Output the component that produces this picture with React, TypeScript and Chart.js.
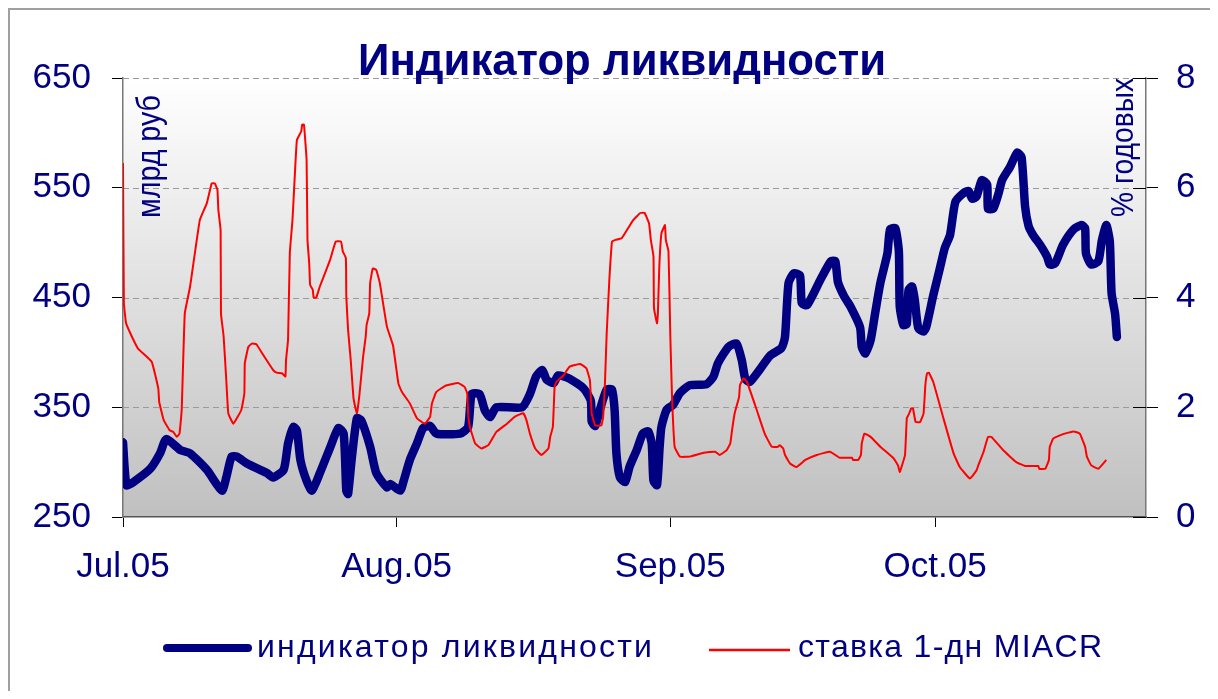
import React, { useEffect, useRef } from "react";
import { Chart, registerables } from "chart.js";

Chart.register(...registerables);

const TITLE = "Индикатор ликвидности";
const LEFT_AXIS_TITLE = "млрд руб";
const RIGHT_AXIS_TITLE = "% годовых";
const SERIES_NAMES = ["индикатор ликвидности", "ставка 1-дн MIACR"];

// x axis: days since 1 Jul 2005
const MONTH_TICK_DAYS = [0, 31, 62, 92];
const MONTH_TICK_LABELS = ["Jul.05", "Aug.05", "Sep.05", "Oct.05"];
const LEFT_TICKS = [250, 350, 450, 550, 650];
const RIGHT_TICKS = [0, 2, 4, 6, 8];

const liquidityDays = [
  0.0, 0.4, 1.2, 3.1, 4.2, 4.9, 6.5, 7.6, 9.5, 11.2, 11.7, 12.3, 12.9, 14.0, 16.3, 17.0, 18.2, 18.7,
  19.3, 19.7, 20.1, 20.8, 21.4, 22.3, 23.5, 24.4, 25.0, 25.3, 25.5, 25.9, 26.5, 27.0, 28.0, 28.7,
  29.9, 30.3, 31.4, 31.8, 32.5, 33.3, 34.0, 34.8, 35.5, 38.2, 39.1, 39.5, 40.4, 41.0, 41.6, 42.3,
  45.2, 46.1, 46.8, 47.5, 48.0, 48.8, 49.3, 50.6, 52.2, 53.0, 53.1, 53.5, 54.0, 54.8, 55.4, 55.7,
  55.9, 56.3, 56.9, 57.4, 58.2, 58.9, 59.5, 59.9, 60.1, 60.5, 60.8, 61.0, 61.6, 62.3, 63.1, 64.2,
  66.1, 66.9, 67.4, 68.6, 69.5, 70.1, 70.5, 71.0, 72.2, 73.3, 74.6, 75.0, 75.4, 76.0, 76.7, 76.9,
  77.5, 79.0, 80.2, 80.7, 81.0, 81.7, 82.4, 83.5, 83.7, 84.1, 84.7, 85.2, 85.8, 86.6, 86.9, 87.5,
  87.9, 88.0, 88.4, 88.8, 89.0, 89.4, 89.7, 90.1, 90.7, 91.0, 91.8, 92.5, 93.1, 93.7, 94.3, 95.2,
  95.8, 96.2, 96.7, 97.3, 97.9, 98.0, 98.6, 99.2, 99.6, 100.5, 101.3, 101.8, 102.2, 102.6, 103.1,
  103.9, 104.7, 105.0, 105.6, 106.5, 107.7, 108.6, 109.0, 109.1, 109.7, 110.5, 110.9, 111.4, 111.8,
  112.0, 112.4, 112.6,
];
const liquidityValues = [
  318, 279, 282, 294, 308, 321, 311, 308, 293, 274, 286, 305, 305, 299, 290, 286, 293, 317,
  332, 329, 302, 283, 274, 290, 314, 331, 326, 274, 271, 302, 340, 338, 314, 290,
  277, 280, 274, 283, 302, 317, 331, 333, 326, 326, 332, 362, 362, 347, 341, 350,
  350, 362, 378, 384, 375, 372, 379, 376, 367, 356, 337, 333, 347, 366, 366, 347,
  308, 286, 282, 296, 311, 326, 328, 317, 283, 279, 314, 332, 348, 352, 363, 370,
  371, 378, 390, 405, 408, 393, 376, 373, 385, 397, 404, 414, 463, 472, 470, 445,
  443, 466, 483, 483, 464, 451, 442, 423, 405, 399, 411, 435, 463, 490, 512, 513,
  492, 442, 425, 426, 457, 460, 448, 422, 419, 423, 452, 475, 495, 507, 537, 545,
  547, 540, 542, 557, 553, 531, 531, 545, 557, 569, 582, 578, 533, 515, 507,
  498, 487, 480, 481, 498, 512, 516, 513, 490, 480, 483, 502, 516, 501,
  454, 435, 414,
];

const rateDays = [
  0.0, 0.1, 0.35, 1.0, 1.7, 3.25, 4.0, 4.1, 4.6, 5.3, 5.7, 6.1, 6.4, 6.65, 7.0, 7.6, 8.7, 9.5,
  10.05, 10.4, 10.7, 10.8, 11.06, 11.1, 11.4, 11.7, 11.93, 12.5, 13.4, 13.75, 13.8, 14.2, 14.6,
  15.1, 15.9, 17.0, 17.4, 18.0, 18.4, 18.47, 18.7, 18.9, 19.2, 19.4, 19.7, 20.2, 20.3, 20.5, 20.8,
  20.9, 21.1, 21.2, 21.5, 21.6, 21.9, 22.3, 23.45, 24.1, 24.7, 24.9, 25.25, 25.3, 25.5, 25.8, 26.1,
  26.3, 26.5, 26.8, 27.2, 27.5, 27.6, 27.9, 28.0, 28.3, 28.7, 29.1, 29.9, 30.6, 31.2, 31.6, 32.5,
  33.3, 34.2, 34.8, 35.0, 35.5, 36.5, 37.2, 38.0, 38.7, 39.0, 39.1, 39.3, 39.9, 40.6, 41.4, 42.3,
  43.5, 44.4, 45.35, 45.7, 46.1, 46.7, 47.4, 48.2, 48.4, 48.7, 48.9, 49.1, 49.9, 50.6, 51.8, 52.5,
  52.9, 53.1, 53.5, 54.2, 54.4, 54.6, 54.8, 55.1, 55.4, 55.8, 56.5, 57.1, 57.8, 58.6, 59.1, 59.6,
  59.8, 60.1, 60.16, 60.5, 60.6, 60.76, 61.0, 61.4, 61.5, 61.8, 62.0, 62.2, 62.5, 63.1, 64.2, 65.8,
  67.1, 67.6, 68.4, 68.8, 69.0, 69.3, 69.8, 69.9, 70.3, 70.7, 71.8, 72.7, 73.5, 74.2, 74.4, 74.8,
  75.0, 75.6, 76.3, 77.3, 78.6, 80.1, 81.2, 82.6, 82.7, 83.3, 83.6, 83.7, 84.0, 84.7, 85.8, 87.3,
  87.8, 88.0, 88.2, 88.6, 88.8, 89.0, 89.3, 89.5, 89.8, 90.3, 90.7, 90.9, 91.1, 91.3, 91.8, 93.0,
  94.1, 94.8, 95.96, 96.7, 96.9, 97.5, 98.0, 98.4, 99.7, 101.2, 102.2, 103.7, 103.8, 104.5, 104.9,
  105.0, 105.4, 106.5, 107.7, 108.4, 109.0, 109.2, 109.7, 110.5, 111.4,
];
const rateValues = [
  6.45, 3.9, 3.53, 3.29, 3.07, 2.83, 2.34, 2.1, 1.77, 1.58, 1.55, 1.46, 1.52, 1.95, 3.71, 4.2, 5.41, 5.72,
  6.08, 6.08, 5.96, 5.6, 5.23, 3.71, 3.29, 2.5, 1.89, 1.7, 1.95, 2.25, 2.8, 3.1, 3.16,
  3.15, 2.95, 2.68, 2.63, 2.62, 2.56, 2.86, 3.23, 4.81, 5.41, 6.02, 6.87, 7.03, 7.15, 7.15, 6.51,
  5.05, 4.62, 4.23, 4.14, 4.0, 4.0, 4.2, 4.68, 5.02, 5.02, 4.84, 4.72, 4.02, 3.41, 2.86, 2.19,
  2.01, 1.89, 2.25, 2.92, 3.29, 3.5, 3.71, 4.26, 4.53, 4.5, 4.26, 3.47, 3.12, 2.43, 2.28, 2.07,
  1.8, 1.7, 1.83, 2.07, 2.28, 2.39, 2.42, 2.44, 2.37, 2.25, 1.89, 1.64, 1.34, 1.25, 1.31, 1.55,
  1.7, 1.83, 1.89, 1.77, 1.52, 1.25, 1.13, 1.25, 1.46, 1.64, 2.37, 2.46, 2.58, 2.74, 2.79, 2.71,
  2.49, 1.89, 1.67, 1.67, 1.83, 2.43, 3.35, 4.32, 5.02, 5.05, 5.08, 5.23, 5.41, 5.54, 5.54, 5.35,
  5.05, 4.75, 3.8, 3.53, 3.71, 4.56, 5.17, 5.32, 5.05, 4.84, 3.35, 2.2, 1.28, 1.1, 1.1, 1.17,
  1.19, 1.13, 1.22, 1.34, 1.58, 1.89, 2.19, 2.4, 2.53, 2.46, 1.95, 1.52, 1.28, 1.28, 1.31, 1.25,
  1.13, 0.97, 0.91, 1.04, 1.13, 1.19, 1.08, 1.08, 1.04, 1.04, 1.13, 1.34, 1.52, 1.46, 1.28, 1.07,
  0.94, 0.82, 0.91, 1.13, 1.8, 1.86, 1.98, 1.98, 1.73, 1.73, 1.89, 2.4, 2.62, 2.63, 2.46, 1.77,
  1.16, 0.91, 0.7, 0.85, 0.94, 1.19, 1.46, 1.46, 1.22, 1.0, 0.93, 0.93, 0.88, 0.88, 1.04,
  1.28, 1.43, 1.51, 1.56, 1.52, 1.28, 1.1, 0.94, 0.88, 1.04,
];

const NAVY = "#000080";
const RED = "#ff0000";
const FONT = "'Liberation Sans', Arial, sans-serif";

function fitText(ctx: CanvasRenderingContext2D, text: string, x: number, y: number, font: string, target: number) {
  // draws text starting at x (left) with baseline y, fitted to target width
  ctx.save();
  ctx.font = font;
  ctx.textAlign = "left";
  ctx.textBaseline = "alphabetic";
  const w = ctx.measureText(text).width;
  const n = text.length - 1;
  if (w < target && n > 0) {
    (ctx as any).letterSpacing = (target - w) / n + "px";
    ctx.fillText(text, x, y);
  } else {
    ctx.translate(x, y);
    ctx.scale(target / w, 1);
    ctx.fillText(text, 0, 0);
  }
  ctx.restore();
}

const decorPlugin = {
  id: "decor",
  beforeDraw(chart: any) {
    const { ctx, chartArea } = chart;
    const g = ctx.createLinearGradient(0, chartArea.top, 0, chartArea.bottom);
    g.addColorStop(0, "#ffffff");
    g.addColorStop(1, "#c0c0c0");
    ctx.save();
    ctx.fillStyle = g;
    ctx.fillRect(chartArea.left, chartArea.top, chartArea.right - chartArea.left, chartArea.bottom - chartArea.top);
    ctx.restore();
  },
  beforeDatasetsDraw(chart: any) {
    const { ctx, chartArea } = chart;
    const ys = chart.scales.y;
    ctx.save();
    ctx.strokeStyle = "#9a9a9a";
    ctx.lineWidth = 1;
    ctx.setLineDash([6, 4]);
    LEFT_TICKS.forEach((v) => {
      if (v === ys.min) return;
      const py = Math.round(ys.getPixelForValue(v)) + 0.5;
      ctx.beginPath();
      ctx.moveTo(chartArea.left, py);
      ctx.lineTo(chartArea.right, py);
      ctx.stroke();
    });
    ctx.restore();
  },
  afterDraw(chart: any) {
    const { ctx, chartArea } = chart;
    ctx.save();
    ctx.fillStyle = NAVY;
    // title
    fitText(ctx, TITLE, 348, 64.5, `bold 44px ${FONT}`, 528);
    // left axis title (rotated)
    ctx.save();
    ctx.translate(150, 208);
    ctx.rotate(-Math.PI / 2);
    fitText(ctx, LEFT_AXIS_TITLE, 0, 0, `33px ${FONT}`, 123);
    ctx.restore();
    // right axis title (rotated)
    ctx.save();
    ctx.translate(1123, 207);
    ctx.rotate(-Math.PI / 2);
    fitText(ctx, RIGHT_AXIS_TITLE, 0, 0, `32px ${FONT}`, 139);
    ctx.restore();
    // inner tick marks on right axis
    const y1 = chart.scales.y1;
    ctx.strokeStyle = "#000";
    ctx.lineWidth = 1;
    RIGHT_TICKS.forEach((v) => {
      const py = Math.round(y1.getPixelForValue(v)) + 0.5;
      ctx.beginPath();
      ctx.moveTo(chartArea.right - 13, py);
      ctx.lineTo(chartArea.right, py);
      ctx.stroke();
    });
    // legend
    ctx.lineCap = "round";
    ctx.strokeStyle = NAVY;
    ctx.lineWidth = 8;
    ctx.beginPath();
    ctx.moveTo(157, 638);
    ctx.lineTo(238, 638);
    ctx.stroke();
    ctx.lineCap = "butt";
    ctx.strokeStyle = RED;
    ctx.lineWidth = 2.5;
    ctx.beginPath();
    ctx.moveTo(699, 640);
    ctx.lineTo(780, 640);
    ctx.stroke();
    ctx.fillStyle = NAVY;
    fitText(ctx, SERIES_NAMES[0], 247, 647, `32px ${FONT}`, 395);
    fitText(ctx, SERIES_NAMES[1], 788, 647, `32px ${FONT}`, 304);
    ctx.restore();
  },
};

export default function App() {
  const ref = useRef<HTMLCanvasElement | null>(null);
  useEffect(() => {
    if (!ref.current) return;
    Chart.defaults.font.family = FONT;
    const chart = new Chart(ref.current, {
      type: "line",
      data: {
        datasets: [
          {
            label: SERIES_NAMES[1],
            data: rateDays.map((d, i) => ({ x: d, y: rateValues[i] })),
            yAxisID: "y1",
            borderColor: RED,
            backgroundColor: RED,
            borderWidth: 2,
            pointRadius: 0,
            tension: 0.1,
            borderJoinStyle: "round",
            order: 1,
          },
          {
            label: SERIES_NAMES[0],
            data: liquidityDays.map((d, i) => ({ x: d, y: liquidityValues[i] })),
            yAxisID: "y",
            borderColor: NAVY,
            backgroundColor: NAVY,
            borderWidth: 8.5,
            pointRadius: 0,
            tension: 0.2,
            borderCapStyle: "round",
            borderJoinStyle: "round",
            order: 2,
          },
        ],
      },
      options: {
        animation: false,
        responsive: false,
        maintainAspectRatio: false,
        layout: { padding: { top: 68, left: 0, right: 0, bottom: 0 } },
        plugins: { legend: { display: false }, tooltip: { enabled: false }, title: { display: false } },
        scales: {
          x: {
            type: "linear",
            min: 0,
            max: 115.9,
            afterBuildTicks: (s: any) => {
              s.ticks = MONTH_TICK_DAYS.map((v) => ({ value: v }));
            },
            afterFit: (s: any) => {
              s.height = 174;
            },
            ticks: {
              autoSkip: false,
              maxRotation: 0,
              padding: 19,
              color: NAVY,
              font: { size: 35 },
              callback: (v: any) => {
                const i = MONTH_TICK_DAYS.indexOf(Number(v));
                return i >= 0 ? MONTH_TICK_LABELS[i] : "";
              },
            },
            grid: { drawOnChartArea: false, tickLength: 10, tickColor: "#000", tickWidth: 1 },
            border: { color: "#555555", width: 1.5 },
          },
          y: {
            type: "linear",
            position: "left",
            min: 250,
            max: 650,
            afterBuildTicks: (s: any) => {
              s.ticks = LEFT_TICKS.map((v) => ({ value: v }));
            },
            afterFit: (s: any) => {
              s.width = 113;
            },
            ticks: { padding: 21, color: NAVY, font: { size: 35 } },
            grid: {
              drawOnChartArea: false,
              tickColor: "#000",
              tickLength: 11,
              tickWidth: 1,
            },
            border: { color: "#777777", width: 1.5 },
          },
          y1: {
            type: "linear",
            position: "right",
            min: 0,
            max: 8,
            afterBuildTicks: (s: any) => {
              s.ticks = RIGHT_TICKS.map((v) => ({ value: v }));
            },
            afterFit: (s: any) => {
              s.width = 64;
            },
            ticks: { padding: 18, color: NAVY, font: { size: 35 } },
            grid: { drawOnChartArea: false, tickColor: "#000", tickLength: 12, tickWidth: 1 },
            border: { color: "#777777", width: 1.5 },
          },
        },
      },
      plugins: [decorPlugin],
    } as any);
    return () => chart.destroy();
  }, []);

  return (
    <div
      style={{
        width: 1202,
        height: 683,
        boxSizing: "border-box",
        borderTop: "2px solid #a0a0a0",
        borderLeft: "2px solid #a0a0a0",
        background: "#ffffff",
      }}
    >
      <canvas ref={ref} width={1200} height={681} style={{ display: "block", width: 1200, height: 681 }} />
    </div>
  );
}
